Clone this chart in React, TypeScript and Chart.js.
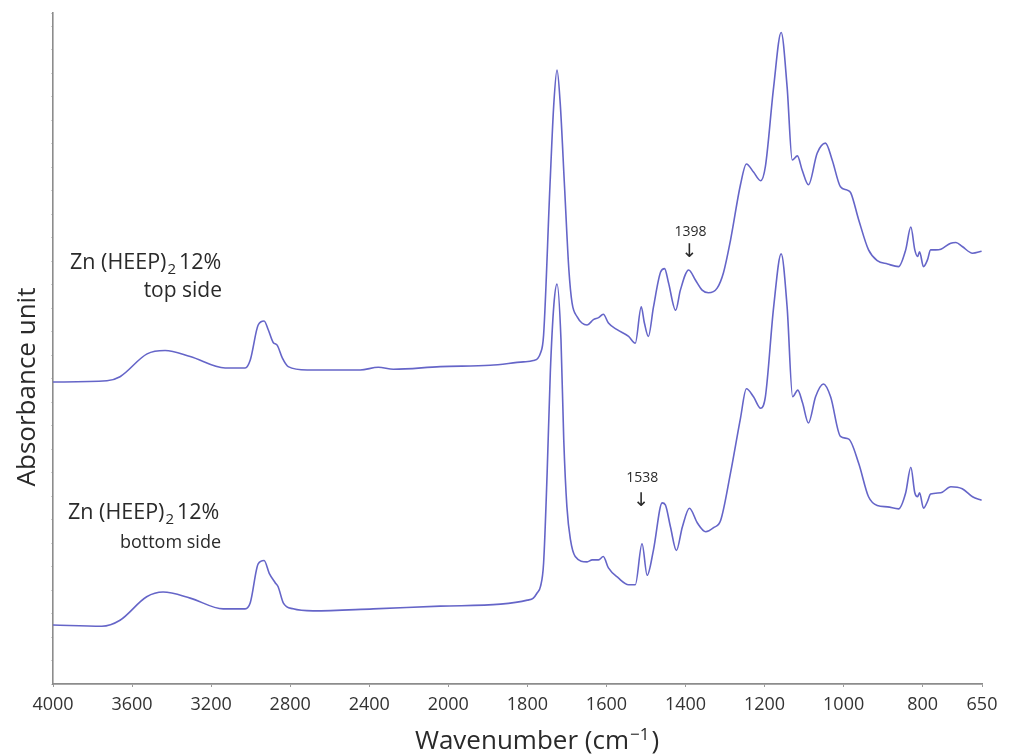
import React, { useEffect, useRef } from 'react';
import { Chart, LineController, LineElement, PointElement, LinearScale } from 'chart.js';

// ---------- data ----------
const topWavenumber = [4000, 3727, 3661, 3524, 3433, 3306, 3129, 3028, 3002, 2962, 2932, 2911, 2886, 2866, 2840, 2810, 2714, 2446, 2354, 2278, 2041, 1894, 1810, 1785, 1767, 1759, 1743, 1733, 1725, 1717, 1706, 1695, 1687, 1674, 1662, 1649, 1633, 1620, 1608, 1595, 1573, 1544, 1527, 1512, 1504, 1494, 1481, 1463, 1453, 1443, 1425, 1413, 1392, 1375, 1358, 1342, 1320, 1304, 1286, 1261, 1246, 1228, 1210, 1198, 1177, 1158, 1143, 1130, 1117, 1105, 1089, 1067, 1046, 1029, 1008, 991, 982, 962, 937, 915, 889, 861, 843, 830, 820, 813, 808, 798, 788, 780, 767, 754, 729, 716, 700, 674, 651];
const topAbsorbance = [0.450, 0.452, 0.458, 0.492, 0.497, 0.488, 0.471, 0.471, 0.483, 0.535, 0.541, 0.528, 0.509, 0.505, 0.486, 0.473, 0.468, 0.468, 0.472, 0.469, 0.473, 0.475, 0.480, 0.482, 0.493, 0.520, 0.741, 0.866, 0.915, 0.866, 0.741, 0.617, 0.568, 0.547, 0.538, 0.535, 0.543, 0.546, 0.551, 0.538, 0.528, 0.518, 0.508, 0.562, 0.538, 0.518, 0.562, 0.614, 0.619, 0.598, 0.557, 0.587, 0.617, 0.602, 0.587, 0.583, 0.590, 0.613, 0.662, 0.744, 0.775, 0.763, 0.750, 0.771, 0.890, 0.971, 0.890, 0.781, 0.787, 0.766, 0.744, 0.791, 0.806, 0.781, 0.741, 0.736, 0.732, 0.692, 0.647, 0.631, 0.626, 0.622, 0.647, 0.681, 0.647, 0.637, 0.644, 0.622, 0.632, 0.647, 0.647, 0.648, 0.657, 0.658, 0.652, 0.642, 0.645];

const bottomWavenumber = [4000, 3753, 3661, 3526, 3443, 3306, 3139, 3028, 3002, 2962, 2932, 2906, 2876, 2861, 2835, 2785, 2684, 2380, 2041, 1868, 1800, 1785, 1775, 1767, 1759, 1750, 1742, 1733, 1725, 1715, 1708, 1700, 1691, 1679, 1649, 1636, 1620, 1608, 1595, 1570, 1544, 1527, 1510, 1497, 1481, 1459, 1451, 1438, 1423, 1408, 1390, 1370, 1349, 1329, 1311, 1286, 1261, 1246, 1228, 1210, 1198, 1177, 1158, 1143, 1129, 1116, 1104, 1089, 1071, 1051, 1033, 1008, 987, 962, 937, 915, 889, 861, 843, 830, 820, 813, 808, 798, 788, 780, 754, 729, 700, 674, 651];
const bottomAbsorbance = [0.088, 0.086, 0.095, 0.130, 0.137, 0.128, 0.112, 0.112, 0.121, 0.179, 0.184, 0.165, 0.151, 0.145, 0.121, 0.112, 0.109, 0.112, 0.116, 0.119, 0.125, 0.128, 0.136, 0.145, 0.180, 0.315, 0.464, 0.565, 0.596, 0.513, 0.364, 0.264, 0.215, 0.190, 0.182, 0.185, 0.185, 0.190, 0.173, 0.158, 0.148, 0.148, 0.209, 0.162, 0.200, 0.270, 0.267, 0.234, 0.199, 0.234, 0.262, 0.240, 0.227, 0.233, 0.244, 0.315, 0.396, 0.440, 0.428, 0.411, 0.428, 0.562, 0.641, 0.562, 0.428, 0.438, 0.419, 0.389, 0.428, 0.447, 0.428, 0.369, 0.365, 0.329, 0.279, 0.266, 0.264, 0.261, 0.285, 0.323, 0.285, 0.279, 0.285, 0.262, 0.272, 0.283, 0.285, 0.294, 0.291, 0.279, 0.274];

const xTickValues = [4000, 3600, 3200, 2800, 2400, 2000, 1800, 1600, 1400, 1200, 1000, 800, 650];

const sampleLabels = ['top side', 'bottom side'];
const peakLabels = ['1398', '1538'];
const peakLabelWavenumbers = [1390, 1512];
const peakLabelAbsorbance = [0.674, 0.307];
const peakArrowAbsorbance = [0.643, 0.272];

const LINE_COLOR = '#6565c8';
const FONT = '"Open Sans", "DejaVu Sans", sans-serif';

// FTIR axis: 400 cm-1 per division above 2000, 200 cm-1 per division below (2x expansion)
class FtirScale extends LinearScale {
  static id = 'ftir';
  static defaults = LinearScale.defaults;
  getPixelForValue(value: number) {
    const u = value >= 2000 ? (4000 - value) / 400 : 5 + (2000 - value) / 200;
    return this.left + (this.width * u) / 11.75;
  }
  getValueForPixel(pixel: number) {
    const u = ((pixel - this.left) / this.width) * 11.75;
    return u <= 5 ? 4000 - 400 * u : 2000 - 200 * (u - 5);
  }
}

Chart.register(LineController, LineElement, PointElement, LinearScale, FtirScale);

function drawZn(ctx: CanvasRenderingContext2D, x: number, y: number, size: number) {
  ctx.textAlign = 'left';
  ctx.textBaseline = 'middle';
  ctx.font = `${size}px ${FONT}`;
  const a = 'Zn (HEEP)';
  ctx.fillText(a, x, y);
  let cx = x + ctx.measureText(a).width + 1;
  ctx.font = `${Math.round(size * 0.68)}px ${FONT}`;
  ctx.fillText('2', cx, y + size * 0.32);
  cx += ctx.measureText('2').width + 3;
  ctx.font = `${size}px ${FONT}`;
  ctx.fillText('12%', cx, y);
}

const textPlugin = {
  id: 'ftirText',
  afterDraw(chart: any) {
    const ctx: CanvasRenderingContext2D = chart.ctx;
    const xs = chart.scales.x;
    const ys = chart.scales.y;
    ctx.save();
    ctx.fillStyle = '#2a2a2a';

    // y axis title
    ctx.save();
    ctx.translate(28, 387);
    ctx.rotate(-Math.PI / 2);
    ctx.font = `26px ${FONT}`;
    ctx.textAlign = 'center';
    ctx.textBaseline = 'middle';
    ctx.fillText('Absorbance unit', 0, 0);
    ctx.restore();

    // x axis title with superscript
    const big = `26px ${FONT}`;
    const small = `17px ${FONT}`;
    const p1 = 'Wavenumber (cm';
    const p2 = '\u22121';
    const p3 = ')';
    ctx.font = big;
    const w1 = ctx.measureText(p1).width;
    const w3 = ctx.measureText(p3).width;
    ctx.font = small;
    const w2 = ctx.measureText(p2).width;
    const total = w1 + w2 + w3 + 3;
    let tx = 537 - total / 2;
    const ty = 742;
    ctx.textAlign = 'left';
    ctx.textBaseline = 'middle';
    ctx.font = big;
    ctx.fillText(p1, tx, ty);
    tx += w1 + 1;
    ctx.font = small;
    ctx.fillText(p2, tx, ty - 7);
    tx += w2 + 2;
    ctx.font = big;
    ctx.fillText(p3, tx, ty);

    // sample labels
    drawZn(ctx, 70, 263, 21.5);
    ctx.textAlign = 'right';
    ctx.font = `21px ${FONT}`;
    ctx.fillText(sampleLabels[0], 222, 291);
    drawZn(ctx, 68, 513, 21.5);
    ctx.textAlign = 'right';
    ctx.font = `18px ${FONT}`;
    ctx.fillText(sampleLabels[1], 221, 543);

    // peak labels with arrows
    for (let i = 0; i < peakLabels.length; i++) {
      const px = xs.getPixelForValue(peakLabelWavenumbers[i]);
      ctx.textAlign = 'center';
      ctx.textBaseline = 'middle';
      ctx.font = `14px ${FONT}`;
      ctx.fillText(peakLabels[i], px + 1, ys.getPixelForValue(peakLabelAbsorbance[i]));
      ctx.font = `19px "DejaVu Sans", sans-serif`;
      ctx.fillText('\u2193', px, ys.getPixelForValue(peakArrowAbsorbance[i]));
    }
    ctx.restore();
  },
};

export default function App() {
  const canvasRef = useRef<HTMLCanvasElement | null>(null);

  useEffect(() => {
    document.body.style.margin = '0';
    const canvas = canvasRef.current;
    if (!canvas) return;
    const chart = new Chart(canvas, {
      type: 'line',
      data: {
        datasets: [
          {
            label: 'Zn (HEEP)2 12% top side',
            data: topWavenumber.map((w, i) => ({ x: w, y: topAbsorbance[i] })),
            borderColor: LINE_COLOR,
            borderWidth: 1.6,
            pointRadius: 0,
            cubicInterpolationMode: 'monotone',
            fill: false,
          },
          {
            label: 'Zn (HEEP)2 12% bottom side',
            data: bottomWavenumber.map((w, i) => ({ x: w, y: bottomAbsorbance[i] })),
            borderColor: LINE_COLOR,
            borderWidth: 1.6,
            pointRadius: 0,
            cubicInterpolationMode: 'monotone',
            fill: false,
          },
        ],
      },
      options: {
        responsive: false,
        animation: false,
        events: [],
        layout: { padding: { top: 13, right: 29, left: 0, bottom: 0 } },
        plugins: { legend: { display: false }, tooltip: { enabled: false } },
        scales: {
          x: {
            type: 'ftir' as any,
            position: 'bottom',
            min: 650,
            max: 4000,
            afterBuildTicks: (scale: any) => {
              scale.ticks = xTickValues.map((v) => ({ value: v }));
            },
            afterFit: (scale: any) => {
              scale.height = 71;
            },
            grid: { drawOnChartArea: false, drawTicks: true, tickLength: 3, color: '#9a9a9a', lineWidth: 1 },
            border: { color: '#8c8c8c', width: 1.8 },
            ticks: {
              autoSkip: false,
              maxRotation: 0,
              padding: 7,
              color: '#333333',
              font: { family: FONT, size: 18 },
              callback: (v: any) => String(v),
            },
          },
          y: {
            type: 'linear',
            position: 'left',
            min: 0,
            max: 1,
            afterFit: (scale: any) => {
              scale.width = 53;
            },
            grid: { drawOnChartArea: false, drawTicks: true, tickLength: 2, color: '#d0d0d0' },
            border: { color: '#8c8c8c', width: 1.6 },
            ticks: { display: false, stepSize: 0.035 },
          },
        },
      },
      plugins: [textPlugin],
    });
    return () => chart.destroy();
  }, []);

  return (
    <div style={{ width: 1011, height: 755, position: 'relative' }}>
      <canvas ref={canvasRef} width={1011} height={755} style={{ display: 'block' }} />
    </div>
  );
}
